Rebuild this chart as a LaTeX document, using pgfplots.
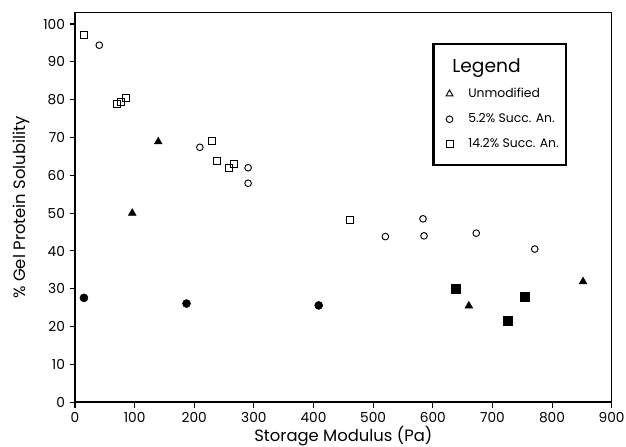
\documentclass[border=0pt]{standalone}
\usepackage{fontspec}
\setmainfont{Poppins}
\usepackage{pgfplots}
\pgfplotsset{compat=1.18}

\begin{document}
\begin{tikzpicture}
  \begin{axis}[
      scale only axis,
      width=402.5pt, height=292.2pt,
      xmin=0, xmax=900, ymin=0, ymax=103,
      xtick={0,100,...,900}, ytick={0,10,...,100},
      axis line style={line width=1pt},
      tick align=outside, tick pos=left,
      major tick length=4pt,
      tick style={line width=0.8pt, black},
      ticklabel style={font=\fontsize{10.3}{11}\selectfont},
      /pgf/number format/assume math mode=true,
      xlabel={Storage Modulus (Pa)},
      ylabel={\% Gel Protein Solubility},
      label style={font=\fontsize{12.3}{14}\selectfont},
      xlabel style={yshift=4.5pt},
      ylabel style={yshift=3pt},
      legend cell align=left,
      legend style={at={(rel axis cs:0.666,0.923)}, anchor=north west,
        draw=black, line width=1.6pt, font=\fontsize{9.3}{10}\selectfont,
        row sep=6.5pt, column sep=9.5pt, inner xsep=3.5pt, inner ysep=9pt},
    ]
    % title row of the legend
    \addlegendimage{empty legend}
    \addlegendentry{\hspace{-12pt}\fontsize{14}{16}\selectfont Legend}
    \addlegendimage{only marks, mark=triangle, mark size=3pt, mark options={line width=0.7pt, draw=black}}
    \addlegendentry{Unmodified}
    \addlegendimage{only marks, mark=o, mark size=2.5pt, mark options={line width=0.7pt, draw=black}}
    \addlegendentry{5.2\% Succ. An.}
    \addlegendimage{only marks, mark=square, mark size=2.6pt, mark options={line width=0.7pt, draw=black}}
    \addlegendentry{14.2\% Succ. An.}

    % open circles (5.2% succ. an.)
    \addplot[forget plot, only marks, mark=o, mark size=2.5pt, mark options={line width=0.7pt, draw=black}]
      coordinates {(40.7,94.4) (209.4,67.4) (290.3,62.0) (290.3,57.9) (520.5,43.8)
                   (583.6,48.5) (585.3,44.0) (672.9,44.7) (771,40.5)};
    % open squares (14.2% succ. an.)
    \addplot[forget plot, only marks, mark=square, mark size=2.6pt, mark options={line width=0.7pt, draw=black, fill=white}]
      coordinates {(15,97.1) (71,78.8) (76.6,79.3) (85.5,80.5) (229,69.1)
                   (238.4,63.9) (258.5,62.0) (266.3,62.9) (460.6,48.2)};
    % filled triangles
    \addplot[forget plot, only marks, mark=triangle*, mark size=3.3pt, black]
      coordinates {(96,50.0) (139.6,68.9) (660.5,25.5) (852,31.9)};
    % filled circles
    \addplot[forget plot, only marks, mark=*, mark size=3pt, black]
      coordinates {(15,27.6) (187,26.1) (408.7,25.6)};
    % filled squares
    \addplot[forget plot, only marks, mark=square*, mark size=3.4pt, black]
      coordinates {(639.3,29.9) (726.5,21.6) (754.3,28.0)};

    % heavier left and bottom frame
    \draw[line width=2pt] (rel axis cs:0,1) -- (rel axis cs:0,0) -- (rel axis cs:1,0);
  \end{axis}
  \pgfresetboundingbox
  \useasboundingbox (-56.25pt,-33.5pt) rectangle (413.25pt,301.7pt);
\end{tikzpicture}
\end{document}
